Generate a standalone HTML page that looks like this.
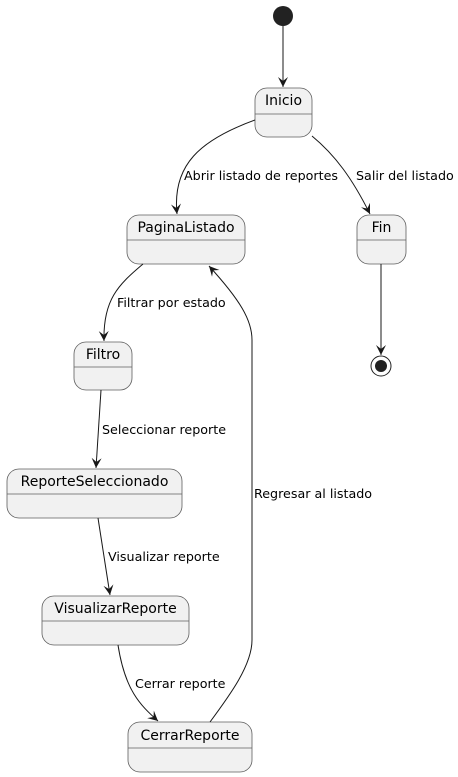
<!DOCTYPE html>
<html><head><meta charset="utf-8"><style>
html,body{margin:0;padding:0;background:#fff;}
svg{display:block;font-family:"DejaVu Sans","Liberation Sans",sans-serif;}
</style></head><body>
<svg width="458" height="777" viewBox="0 0 458 777" xmlns="http://www.w3.org/2000/svg">
<defs>
<marker id="a" markerWidth="12" markerHeight="12" refX="10" refY="5" orient="auto" markerUnits="userSpaceOnUse">
<path d="M0,0 L10,5 L0,10 L4,5 Z" fill="#181818"/>
</marker>
</defs>
<g fill="#F1F1F1" stroke="#5f5f5f" stroke-width="0.8">
<rect x="255" y="88" width="57" height="49" rx="12"/>
<rect x="127" y="215" width="118" height="49" rx="12"/>
<rect x="357" y="215" width="49" height="49" rx="12"/>
<rect x="74" y="342" width="58" height="48" rx="12"/>
<rect x="7" y="469" width="175" height="49" rx="12"/>
<rect x="42" y="596" width="147" height="49" rx="12"/>
<rect x="128" y="722" width="124" height="50" rx="12"/>
</g>
<g stroke="#5f5f5f" stroke-width="0.8">
<line x1="255" y1="114" x2="312" y2="114"/>
<line x1="127" y1="240" x2="245" y2="240"/>
<line x1="357" y1="240" x2="406" y2="240"/>
<line x1="74" y1="367" x2="132" y2="367"/>
<line x1="7" y1="494" x2="182" y2="494"/>
<line x1="42" y1="621" x2="189" y2="621"/>
<line x1="128" y1="748" x2="252" y2="748"/>
</g>
<circle cx="283" cy="16" r="10" fill="#222"/>
<circle cx="381" cy="366" r="10" fill="none" stroke="#222" stroke-width="1"/>
<circle cx="381" cy="366" r="6" fill="#222"/>
<g fill="none" stroke="#181818" stroke-width="1" marker-end="url(#a)">
<path d="M283,26 L283,87"/>
<path d="M255,120 C200,140 172,165 177,214"/>
<path d="M312,136 C335,155 352,178 370,214"/>
<path d="M381,264 L381,355"/>
<path d="M143,264 C118,285 103,300 104,341"/>
<path d="M101,390 L96,468"/>
<path d="M98,518 L110,595"/>
<path d="M118,645 C125,690 140,705 158,721"/>
<path d="M210,722 C230,695 252,665 252,640 L252,340 C252,320 240,300 209,266"/>
</g>
<g font-size="14" fill="#000" text-anchor="middle">
<text x="283.5" y="105">Inicio</text>
<text x="186" y="232">PaginaListado</text>
<text x="381.5" y="232">Fin</text>
<text x="103" y="359">Filtro</text>
<text x="94.5" y="486">ReporteSeleccionado</text>
<text x="115.5" y="613">VisualizarReporte</text>
<text x="190" y="740">CerrarReporte</text>
</g>
<g font-size="12.7" fill="#000">
<text x="184" y="180">Abrir listado de reportes</text>
<text x="356" y="180">Salir del listado</text>
<text x="117" y="307">Filtrar por estado</text>
<text x="102" y="434">Seleccionar reporte</text>
<text x="108" y="561">Visualizar reporte</text>
<text x="135" y="688">Cerrar reporte</text>
<text x="254" y="498">Regresar al listado</text>
</g>
</svg>
</body></html>
